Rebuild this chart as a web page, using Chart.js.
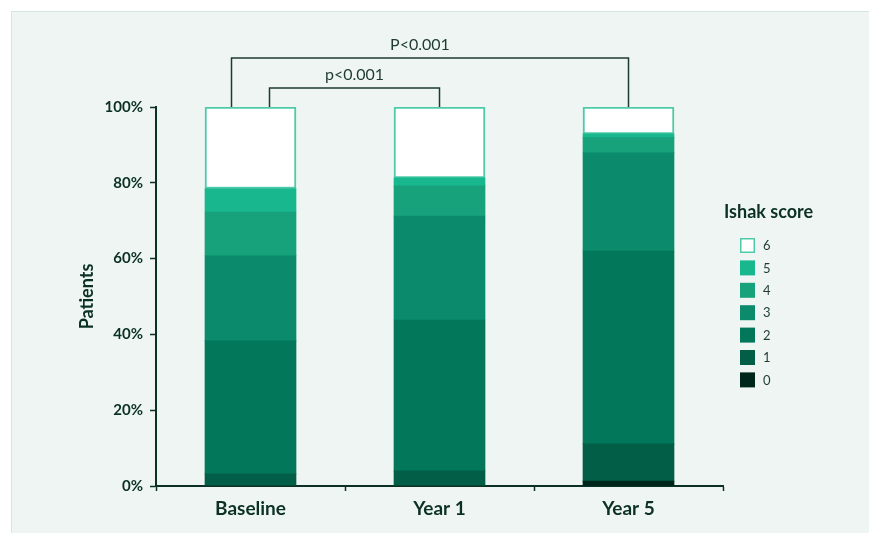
<!DOCTYPE html>
<html>
<head>
<meta charset="utf-8">
<script src="https://cdn.jsdelivr.net/npm/chart.js@4/dist/chart.umd.min.js"></script>
<style>
    html, body { margin: 0; padding: 0; background: #ffffff; }
    #panel {
        position: absolute; left: 11px; top: 11px; width: 870px; height: 540px;
        background: #eef5f2; border: 1px solid #d3e6df;
    }
    #wrap { position: absolute; left: 0; top: 0; width: 869px; height: 533px; }
</style>
</head>
<body>
<div id="panel"></div>
<div id="wrap"><canvas id="chart" width="869" height="533"></canvas></div>

<script>
/* ===============================
   DATA
=================================*/

const categories = ["Baseline", "Year 1", "Year 5"];
const scores = ["0", "1", "2", "3", "4", "5", "6"];

// percent of patients per Ishak score, bottom (0) to top (6)
const score0 = [0, 0, 1.3];
const score1 = [3.2, 4.0, 9.8];
const score2 = [35.1, 39.8, 50.9];
const score3 = [22.4, 27.4, 25.9];
const score4 = [11.6, 8.0, 4.0];
const score5 = [6.2, 2.1, 1.0];
const score6 = [21.5, 18.7, 7.1];

const yTicks = [0, 20, 40, 60, 80, 100];

const comparisons = [
    { from: 0, to: 2, label: "P<0.001", level: 2 },
    { from: 0, to: 1, label: "p<0.001", level: 1 }
];

/* ===============================
   STYLE
=================================*/

const INK = "#0b3024";
const FILLS = ["#00261b", "#035e47", "#02775a", "#0b8b6b", "#17a27b", "#19b78e", "#ffffff"];
const series = [score0, score1, score2, score3, score4, score5, score6];

const datasets = series.map((vals, i) => ({
    label: scores[i],
    data: vals,
    backgroundColor: FILLS[i],
    borderColor: i === 6 ? "#4fcaa8" : FILLS[i],
    borderWidth: i === 6 ? 2 : 0,
    barThickness: 91,
    borderSkipped: false
}));

/* ===============================
   PLUGINS
=================================*/

const bracketPlugin = {
    id: "brackets",
    afterDraw(chart) {
        const { ctx, scales: { x, y } } = chart;
        ctx.save();
        ctx.strokeStyle = "#1e3b32";
        ctx.lineWidth = 1.5;
        ctx.fillStyle = "#1e3b32";
        ctx.font = "16px Lato";
        ctx.textAlign = "center";
        ctx.textBaseline = "middle";
        comparisons.forEach(c => {
            const bottom = y.getPixelForValue(100);
            const top = c.level === 2 ? bottom - 49 : bottom - 19;
            const x1 = x.getPixelForValue(c.from) + (c.level === 2 ? -19 : 19);
            const x2 = x.getPixelForValue(c.to);
            ctx.beginPath();
            ctx.moveTo(x1, bottom);
            ctx.lineTo(x1, top);
            ctx.lineTo(x2, top);
            ctx.lineTo(x2, bottom);
            ctx.stroke();
            const cx = (x1 + x2) / 2 - (c.level === 2 ? 10 : 0);
            ctx.fillText(c.label, cx, top - 13);
        });
        ctx.restore();
    }
};

const legendPlugin = {
    id: "ishakLegend",
    afterDraw(chart) {
        const ctx = chart.ctx;
        ctx.save();
        ctx.fillStyle = INK;
        ctx.font = "bold 18px Lato";
        ctx.textAlign = "left";
        ctx.textBaseline = "middle";
        ctx.fillText("Ishak score", 724, 212);

        const items = chart.data.datasets.slice().reverse();
        items.forEach((ds, k) => {
            const top = 238 + k * 22.4;
            ctx.fillStyle = ds.backgroundColor;
            ctx.fillRect(740, top, 15, 15);
            if (ds.borderWidth) {
                ctx.strokeStyle = ds.borderColor;
                ctx.lineWidth = 1.5;
                ctx.strokeRect(740.75, top + 0.75, 13.5, 13.5);
            }
            ctx.fillStyle = "#1e3b32";
            ctx.font = "13px Lato";
            ctx.fillText(ds.label, 763, top + 8);
        });
        ctx.restore();
    }
};

/* ===============================
   CHART
=================================*/

new Chart(document.getElementById("chart"), {
    type: "bar",
    data: { labels: categories, datasets },
    options: {
        responsive: false,
        animation: false,
        layout: { padding: { left: 70, top: 107, right: 146, bottom: 0 } },
        plugins: {
            legend: { display: false },
            tooltip: { enabled: false }
        },
        scales: {
            x: {
                stacked: true,
                afterFit: s => { s.height = 47; },
                grid: {
                    drawOnChartArea: false,
                    drawTicks: true,
                    tickLength: 5,
                    tickColor: INK,
                    tickWidth: 1.5
                },
                border: { display: true, color: INK, width: 2 },
                ticks: {
                    color: INK,
                    padding: 6,
                    font: { family: "Lato", size: 19, weight: "bold" }
                }
            },
            y: {
                stacked: true,
                min: 0,
                max: 100,
                afterFit: s => { s.width = 86; },
                afterBuildTicks: s => { s.ticks = yTicks.map(v => ({ value: v })); },
                grid: {
                    drawOnChartArea: false,
                    drawTicks: true,
                    tickLength: 6,
                    tickColor: INK,
                    tickWidth: 1.5
                },
                border: { display: true, color: INK, width: 2 },
                ticks: {
                    color: INK,
                    padding: 7,
                    font: { family: "Lato", size: 15, weight: "bold" },
                    callback: v => v + "%"
                },
                title: {
                    display: true,
                    text: "Patients",
                    color: INK,
                    padding: { top: 6, bottom: 0 },
                    font: { family: "Lato", size: 18, weight: "bold" }
                }
            }
        }
    },
    plugins: [bracketPlugin, legendPlugin]
});
</script>
</body>
</html>
